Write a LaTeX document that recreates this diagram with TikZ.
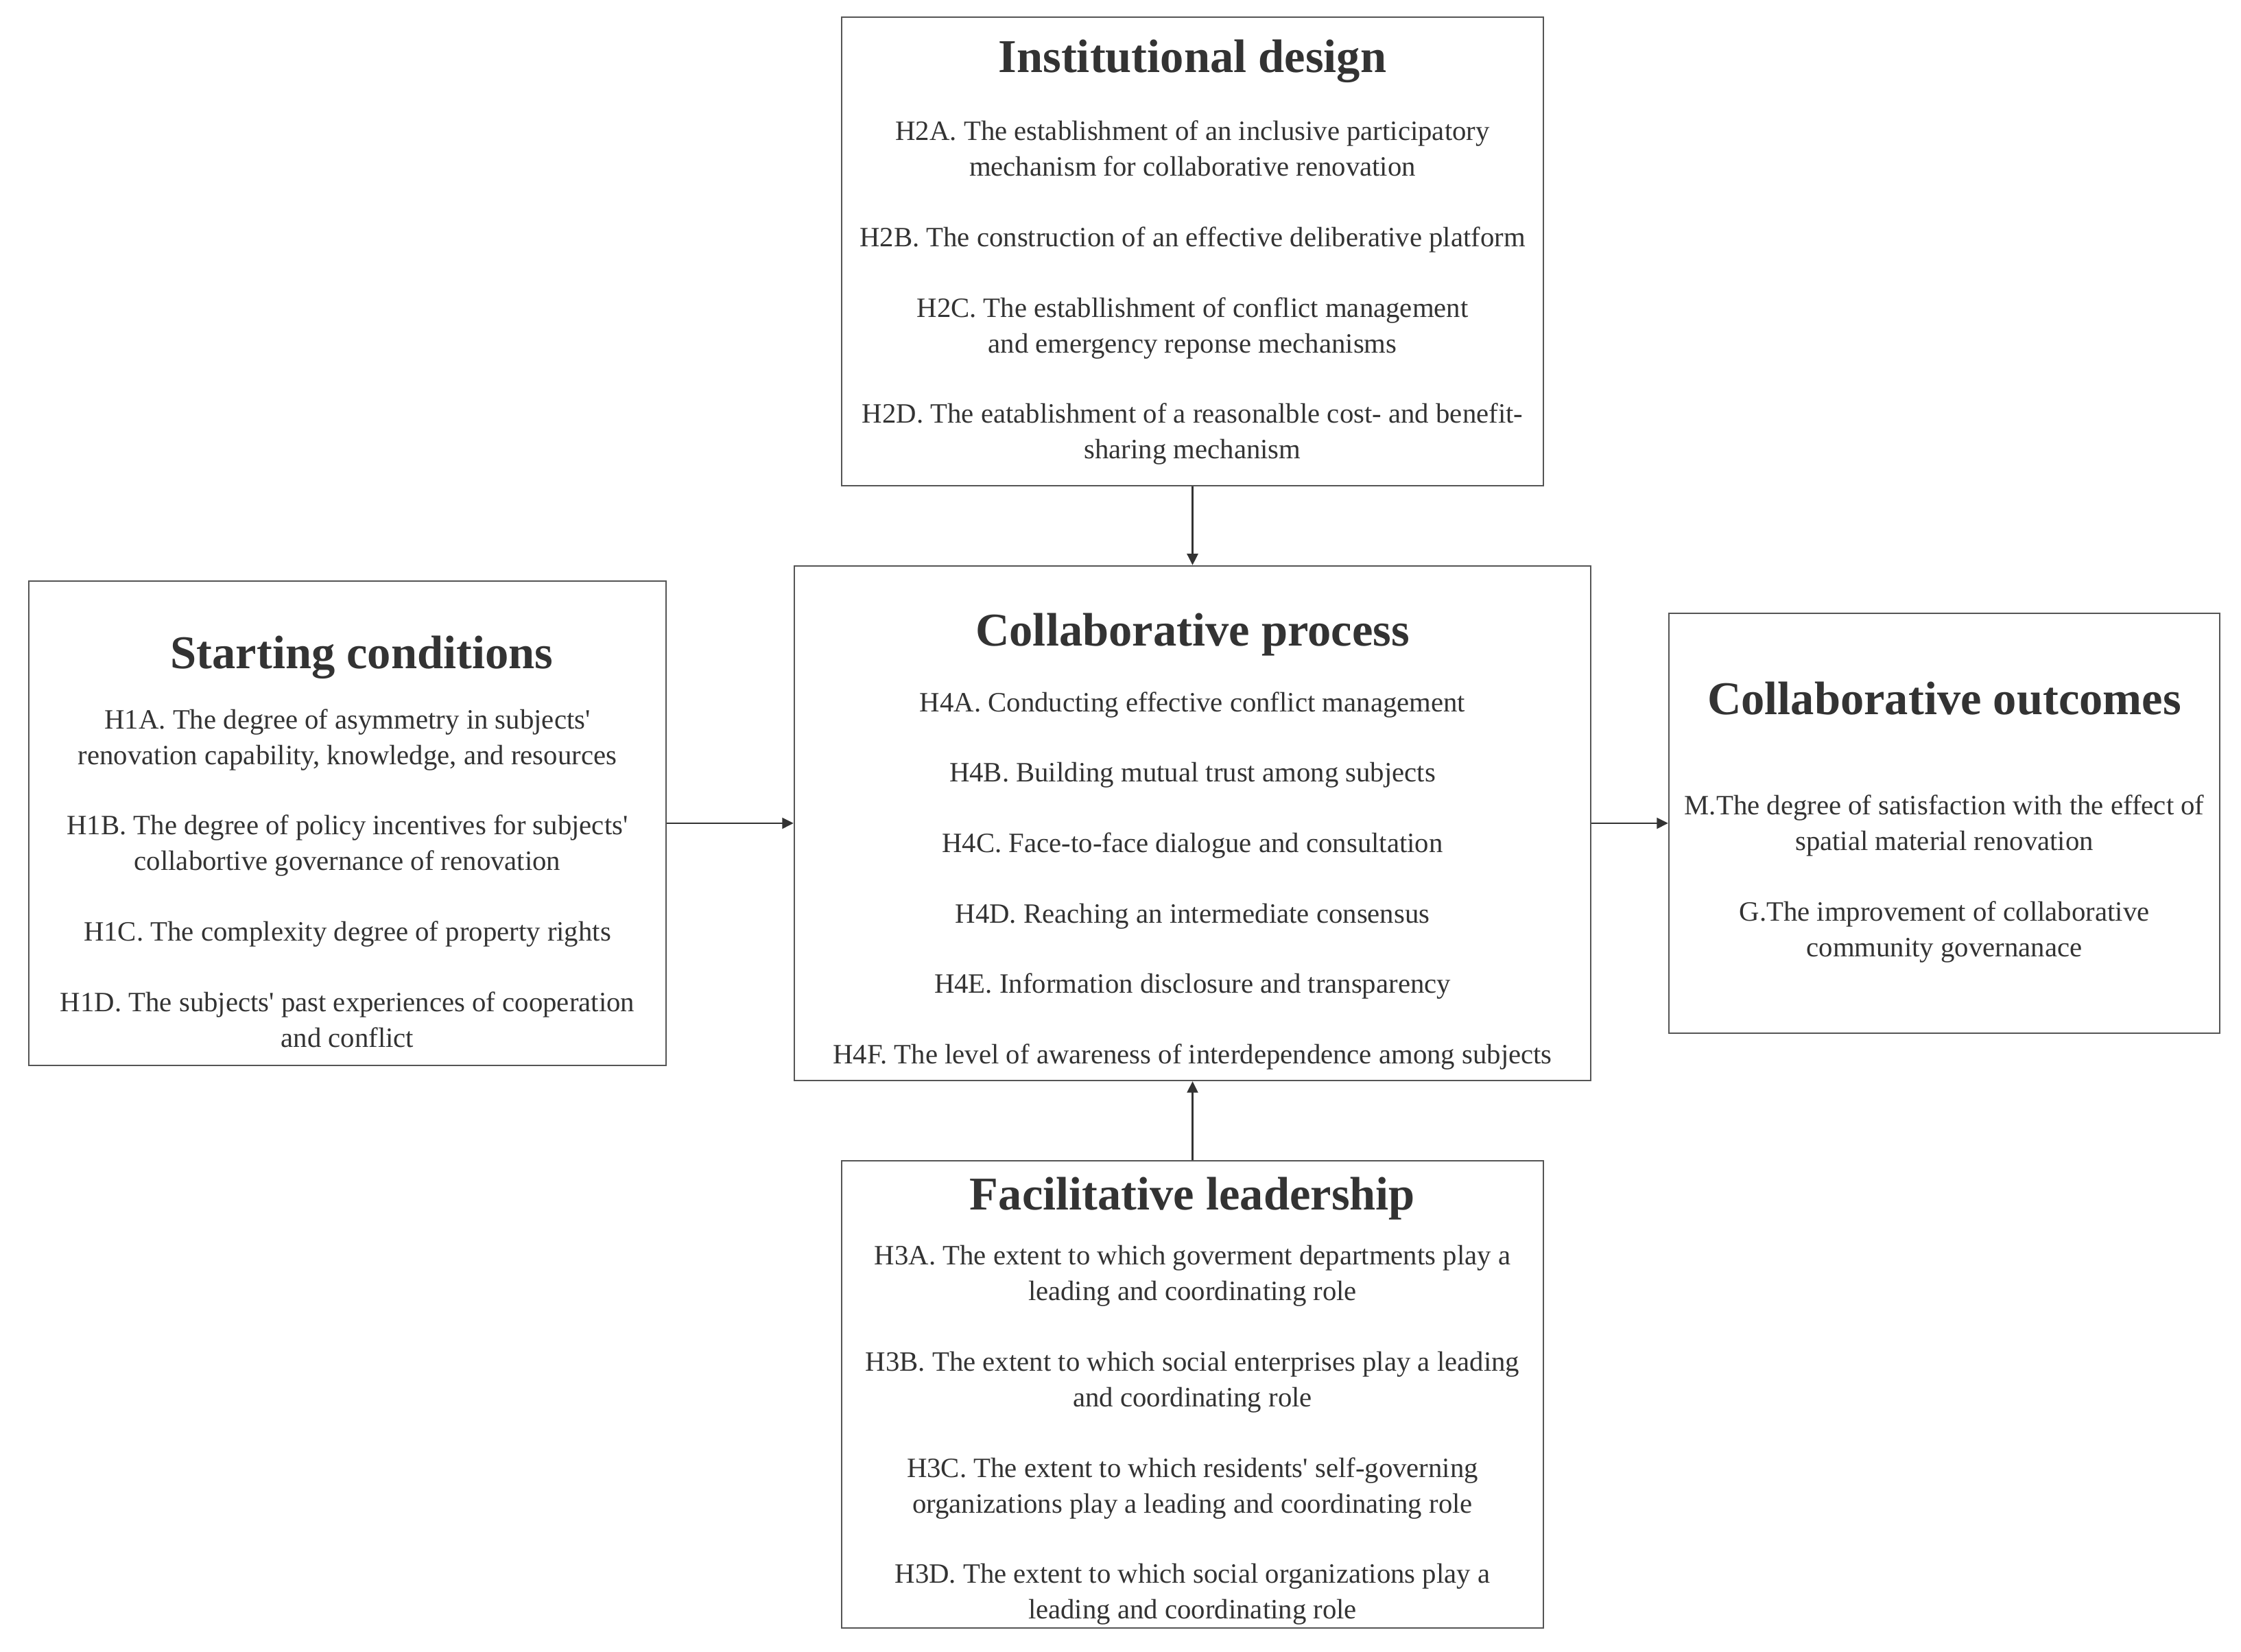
\documentclass[tikz,border=0pt]{standalone}
\usepackage{fontspec}
\setmainfont{Liberation Serif}
\usetikzlibrary{positioning,arrows.meta}
\definecolor{txtgray}{HTML}{333333}
\definecolor{linegray}{HTML}{555555}
\newcommand{\boxtitle}[1]{{\fontsize{19.5}{23}\selectfont\bfseries #1}}
\newcommand{\sq}{\textquotesingle}
\tikzset{
  box/.style={draw=linegray,line width=0.7pt,fill=white,inner sep=0pt},
  txt/.style={text=txtgray,align=center,inner sep=0pt,font=\fontsize{11.6}{14.8}\selectfont},
  arr/.style={draw=txtgray,line width=0.6pt,-{Triangle[length=0.165cm,width=0.16cm]}}
}
\begin{document}
\begin{tikzpicture}
\useasboundingbox[fill=white](0,0)rectangle(32.67,24.08);
% boxes
\node[box,minimum width=10.23cm,minimum height=6.83cm](inst)at(17.385,20.415){};
\node[box,minimum width=11.61cm,minimum height=7.50cm](proc)at(17.385,12.08){};
\node[box,minimum width=9.29cm,minimum height=7.06cm](start)at(5.065,12.08){};
\node[box,minimum width=8.03cm,minimum height=6.12cm](outc)at(28.345,12.08){};
\node[box,minimum width=10.23cm,minimum height=6.81cm](lead)at(17.385,3.755){};
% texts
\node[txt,below=0.34cm of inst.north](instT){\boxtitle{Institutional design}\\[13.3pt]
H2A. The establishment of an inclusive participatory\\
mechanism for collaborative renovation\\[14.4pt]
H2B. The construction of an effective deliberative platform\\[14.4pt]
H2C. The establlishment of conflict management\\
and emergency reponse mechanisms\\[14.4pt]
H2D. The eatablishment of a reasonalble cost- and benefit-\\
sharing mechanism};
\node[txt,below=0.69cm of proc.north](procT){\boxtitle{Collaborative process}\\[12.6pt]
H4A. Conducting effective conflict management\\[14.4pt]
H4B. Building mutual trust among subjects\\[14.4pt]
H4C. Face-to-face dialogue and consultation\\[14.4pt]
H4D. Reaching an intermediate consensus\\[14.4pt]
H4E. Information disclosure and transparency\\[14.4pt]
H4F. The level of awareness of interdependence among subjects};
\node[txt,below=0.80cm of start.north](startT){\hspace*{0.42cm}\boxtitle{Starting conditions}\\[10.3pt]
H1A. The degree of asymmetry in subjects\sq\\
renovation capability, knowledge, and resources\\[14.4pt]
H1B. The degree of policy incentives for subjects\sq\\
collabortive governance of renovation\\[14.4pt]
H1C. The complexity degree of property rights\\[14.4pt]
H1D. The subjects\sq{} past experiences of cooperation\\
and conflict};
\node[txt,below=1.00cm of outc.north](outcT){\boxtitle{Collaborative outcomes}\\[26.9pt]
M.The degree of satisfaction with the effect of\\
spatial material renovation\\[14.4pt]
G.The improvement of collaborative\\
community governanace};
\node[txt,below=0.24cm of lead.north](leadT){\boxtitle{Facilitative leadership}\\[8.2pt]
H3A. The extent to which goverment departments play a\\
leading and coordinating role\\[14.4pt]
H3B. The extent to which social enterprises play a leading\\
and coordinating role\\[14.4pt]
H3C. The extent to which residents\sq{} self-governing\\
organizations play a leading and coordinating role\\[14.4pt]
H3D. The extent to which social organizations play a\\
leading and coordinating role};
% arrows
\draw[arr](inst)--(proc);
\draw[arr](start)--(proc);
\draw[arr](proc)--(outc);
\draw[arr](lead)--(proc);
\end{tikzpicture}
\end{document}
